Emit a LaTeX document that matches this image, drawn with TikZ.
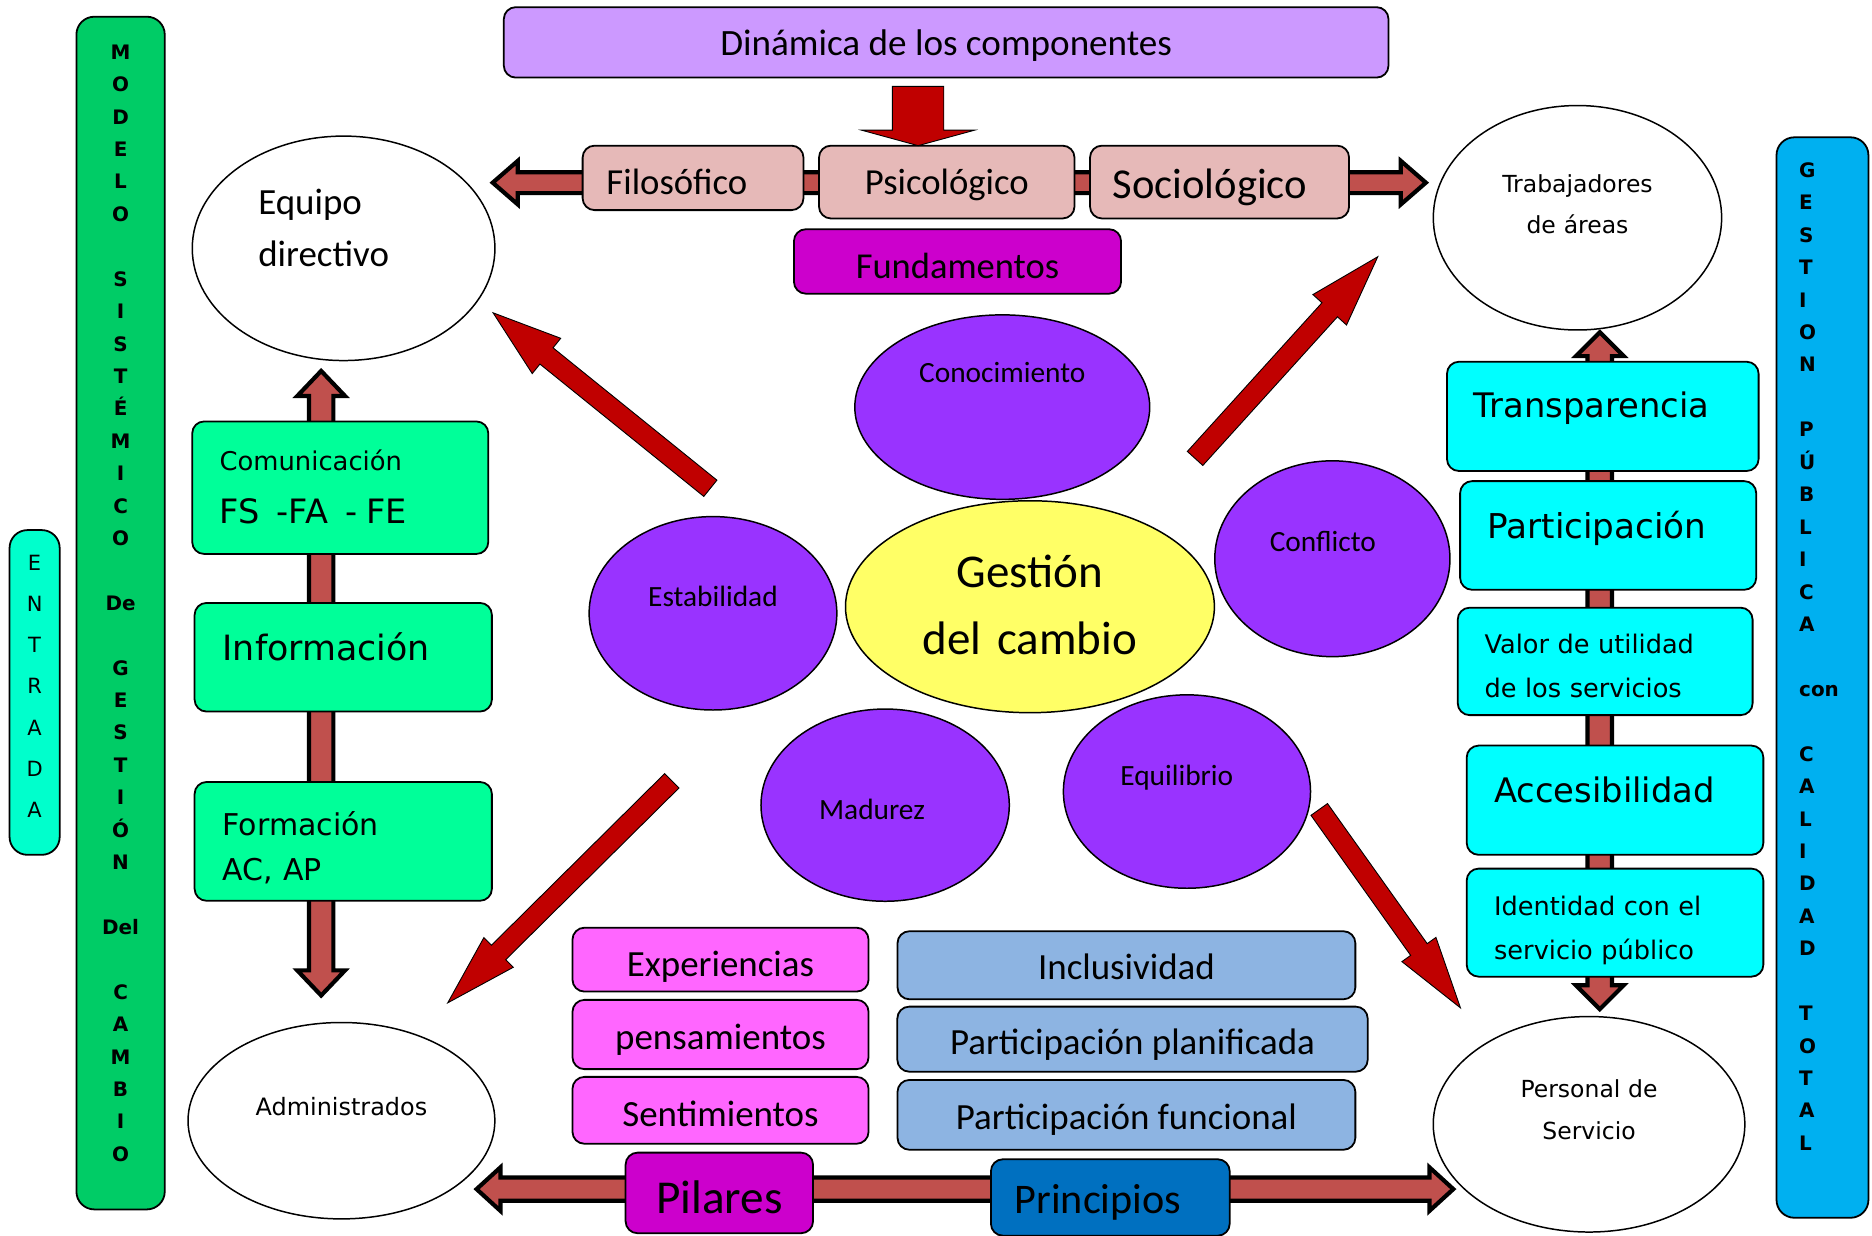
\documentclass[tikz,border=0pt]{standalone}
\usepackage{fontspec}
\setmainfont{Carlito}
\newfontfamily\verd{DejaVu Sans}
\usepackage{tikz}
\usetikzlibrary{shapes.geometric, positioning, calc, backgrounds}
\definecolor{entradaC}{HTML}{00FFCC}
\definecolor{modeloC}{HTML}{00CC66}
\definecolor{calidadC}{HTML}{00B0F0}
\definecolor{dinamicaC}{HTML}{CC99FF}
\definecolor{rootC}{HTML}{E6B9B8}
\definecolor{fundC}{HTML}{CC00CC}
\definecolor{ovalC}{HTML}{9933FF}
\definecolor{gestionC}{HTML}{FFFF66}
\definecolor{greenC}{HTML}{00FF99}
\definecolor{cyanC}{HTML}{00FFFF}
\definecolor{pinkC}{HTML}{FF66FF}
\definecolor{principC}{HTML}{8DB4E2}
\definecolor{darkblueC}{HTML}{0070C0}
\definecolor{blockred}{HTML}{C0504D}
\definecolor{arrowred}{HTML}{C00000}

\newcommand{\fsz}[2]{\fontsize{#1}{#2}\selectfont}

% block arrows: frame from #1 to #2
\newcommand{\arrowframe}[2]{%
  \path (#1); \pgfgetlastxy{\arax}{\aray}%
  \path (#2); \pgfgetlastxy{\arbx}{\arby}%
  \pgfmathsetmacro{\arang}{atan2(\arby-\aray,\arbx-\arax)}%
  \pgfmathsetmacro{\arlen}{veclen(\arbx-\arax,\arby-\aray)}}
% style, from, to, shaft half width, head half width, head length
\newcommand{\onearrow}[6]{%
  \arrowframe{#2}{#3}%
  \draw[#1, shift={(\arax,\aray)}, rotate=\arang]
    (0pt,-#4) -- ({\arlen pt-#6},-#4) -- ({\arlen pt-#6},-#5) -- (\arlen pt,0pt)
    -- ({\arlen pt-#6},#5) -- ({\arlen pt-#6},#4) -- (0pt,#4) -- cycle;}
\newcommand{\twoarrow}[6]{%
  \arrowframe{#2}{#3}%
  \draw[#1, shift={(\arax,\aray)}, rotate=\arang]
    (#6,-#4) -- ({\arlen pt-#6},-#4) -- ({\arlen pt-#6},-#5) -- (\arlen pt,0pt)
    -- ({\arlen pt-#6},#5) -- ({\arlen pt-#6},#4) -- (#6,#4) -- (#6,#5)
    -- (0pt,0pt) -- (#6,-#5) -- cycle;}

\begin{document}
\begin{tikzpicture}[x=0.2mm, y=-0.2mm,
    box/.style={rectangle, draw=black, rounded corners=2mm, line width=0.3mm,
                inner sep=0pt, text depth=0pt},
    oval/.style={ellipse, draw=black, line width=0.25mm, inner sep=0pt, text depth=0pt},
    column/.style={box, rounded corners=3mm},
    lift/.style={text height=0pt, text depth=#1},
    drop/.style={text height=#1, text depth=0pt},
    brownarrow/.style={fill=blockred, draw=black, line width=0.7mm},
    redarrow/.style={fill=arrowred, draw=black, line width=0.15mm}
]
\useasboundingbox (0,0) rectangle (1568,1035);

% Side columns
\node[column, fill=entradaC, minimum width=8.4mm, minimum height=54.4mm, text width=8mm, align=center,
      lift=116.2pt, font=\verd\fsz{10}{19.6}] (entrada) at (29,580) {E\\N\\T\\R\\A\\D\\A};
\node[column, fill=modeloC, minimum width=14.8mm, minimum height=199.8mm, text width=14mm, align=center,
      lift=527.9pt, font=\verd\bfseries\fsz{9.5}{15.45}] (modelo) at (101,513.5)
      {M\\O\\D\\E\\L\\O\\[15.45pt]S\\I\\S\\T\\É\\M\\I\\C\\O\\[15.45pt]De\\[15.45pt]G\\E\\S\\T\\I\\Ó\\N\\[15.45pt]Del\\[15.45pt]C\\A\\M\\B\\I\\O};
\node[column, fill=calidadC, minimum width=15.4mm, minimum height=181mm, text width=7.8mm, align=left,
      lift=476.8pt, font=\verd\bfseries\fsz{9.5}{15.46}] (calidad) at (1526.5,567.5)
      {G\\E\\S\\T\\I\\O\\N\\[15.46pt]P\\Ú\\B\\L\\I\\C\\A\\[15.46pt]con\\[15.46pt]C\\A\\L\\I\\D\\A\\D\\[15.46pt]T\\O\\T\\A\\L};

% Components
\node[box, fill=dinamicaC, minimum width=148.2mm, minimum height=11.8mm, drop=12.9pt,
      font=\fsz{17.7}{21}] (dinamica) at (792.5,35.5) {Dinámica de los componentes};
\node[box, fill=rootC, minimum width=37mm, minimum height=10.8mm, text width=29mm, align=left,
      drop=16.2pt, font=\fsz{17.5}{21}] (filosofico) at (580.5,149) {Filosófico};
\node[box, fill=rootC, minimum width=42.8mm, minimum height=12.2mm, drop=12.2pt,
      font=\fsz{17.5}{21}] (psicologico) at (793,152.5) {Psicológico};
\node[box, fill=rootC, minimum width=43.4mm, minimum height=12.2mm, text width=35.8mm, align=left,
      drop=16.1pt, font=\fsz{20.3}{24}] (sociologico) at (1021.5,152.5) {Sociológico};
\node[box, fill=fundC, minimum width=54.8mm, minimum height=10.8mm, drop=15.9pt,
      font=\fsz{17.4}{21}] (fundamentos) at (802,219) {Fundamentos};

% Actors
\node[oval, fill=white, minimum width=50.7mm, minimum height=37.6mm, text width=28.56mm, align=left,
      lift=31.8pt, font=\fsz{17.6}{24.6}] (equipo) at (287.8,208) {Equipo\\directivo};
\node[oval, fill=white, minimum width=48.3mm, minimum height=37.6mm, text width=30mm, align=center,
      lift=24.5pt, font=\verd\fsz{11.2}{19.6}] (trabajadores) at (1321.3,182.4) {Trabajadores\\de áreas};
\node[oval, fill=white, minimum width=51.4mm, minimum height=32.9mm, lift=5.3pt,
      font=\verd\fsz{11.4}{14}] (administrados) at (286,938.7) {Administrados};
\node[oval, fill=white, minimum width=52.2mm, minimum height=36.1mm, text width=28mm, align=center,
      lift=25.2pt, font=\verd\fsz{11.2}{19.8}] (personal) at (1331,941.7) {Personal de\\Servicio};

% Change core
\node[oval, fill=ovalC, minimum width=49.4mm, minimum height=30.9mm, lift=23.2pt,
      font=\fsz{14}{17}] (conocimiento) at (839.5,341) {Conocimiento};
\node[oval, fill=ovalC, minimum width=41.5mm, minimum height=32.4mm, lift=6.3pt,
      font=\fsz{14}{17}] (estabilidad) at (597.2,513.7) {Estabilidad};
\node[oval, fill=ovalC, minimum width=39.4mm, minimum height=32.8mm, lift=6.8pt,
      font=\fsz{14}{17}] (conflicto) at (1116,468) {Conflicto\kern3.2mm};
\node[oval, fill=ovalC, minimum width=41.6mm, minimum height=32.2mm, drop=14.1pt,
      font=\fsz{14}{17}] (madurez) at (741.4,674.4) {Madurez\kern4.4mm};
\node[oval, fill=ovalC, minimum width=41.4mm, minimum height=32.4mm, lift=6.2pt,
      font=\fsz{14}{17}] (equilibrio) at (994.2,663) {Equilibrio\kern3.4mm};
\node[oval, fill=gestionC, minimum width=61.8mm, minimum height=35.5mm, text width=38mm, align=center,
      lift=18.8pt, font=\fsz{22.4}{32}] (gestion) at (862.7,508.2) {Gestión\\del cambio};

% Left stack
\node[box, fill=greenC, minimum width=49.6mm, minimum height=22.2mm, text width=40.4mm, align=left,
      lift=16.4pt, font=\verd\fsz{12.3}{25.5}] (comunicacion) at (285,408.5)
      {Comunicación\\{\fsz{16}{25.5}FS\ \ -FA\ \ - FE}};
\node[box, fill=greenC, minimum width=49.8mm, minimum height=18.2mm, text width=40.4mm, align=left,
      drop=3.2pt, font=\verd\fsz{16.6}{20}] (informacion) at (287.5,550.5) {Información};
\node[box, fill=greenC, minimum width=49.8mm, minimum height=19.9mm, text width=40.4mm, align=left,
      lift=6pt, font=\verd\fsz{14.3}{21.5}] (formacion) at (287.5,704.75) {Formación\\AC, AP};

% Right stack
\node[box, fill=cyanC, minimum width=52.2mm, minimum height=18.3mm, text width=43.2mm, align=left,
      drop=1.4pt, font=\verd\fsz{16.1}{20}] (transparencia) at (1342.5,348.75) {Transparencia};
\node[box, fill=cyanC, minimum width=49.6mm, minimum height=18.2mm, text width=40.4mm, align=left,
      drop=3.1pt, font=\verd\fsz{16.3}{20}] (participacion) at (1347,448.5) {Participación};
\node[box, fill=cyanC, minimum width=49.4mm, minimum height=18mm, text width=40.4mm, align=left,
      lift=7.4pt, font=\verd\fsz{12.2}{21}] (valor) at (1344.5,554) {Valor de utilidad\\de los servicios};
\node[box, fill=cyanC, minimum width=49.7mm, minimum height=18.3mm, text width=40.5mm, align=left,
      drop=1.9pt, font=\verd\fsz{16.1}{20}] (accesibilidad) at (1352.75,670.25) {Accesibilidad};
\node[box, fill=cyanC, minimum width=49.7mm, minimum height=18.1mm, text width=40.5mm, align=left,
      lift=6.9pt, font=\verd\fsz{12.2}{21}] (identidad) at (1352.75,772.8) {Identidad con el\\servicio público};

% Pillars and principles
\node[box, fill=pinkC, minimum width=49.6mm, minimum height=10.7mm, drop=16.5pt,
      font=\fsz{17.6}{21}] (experiencias) at (603.5,803.8) {Experiencias};
\node[box, fill=pinkC, minimum width=49.6mm, minimum height=11.6mm, drop=14.7pt,
      font=\fsz{17.6}{21}] (pensamientos) at (603.5,866.5) {pensamientos};
\node[box, fill=pinkC, minimum width=49.6mm, minimum height=11.2mm, drop=15.5pt,
      font=\fsz{17.6}{21}] (sentimientos) at (603.5,930) {Sentimientos};
\node[box, fill=principC, minimum width=76.7mm, minimum height=11.4mm, drop=14pt,
      font=\fsz{17.6}{21}] (inclusividad) at (943.5,808.5) {Inclusividad};
\node[box, fill=principC, minimum width=78.8mm, minimum height=10.9mm, drop=15pt,
      font=\fsz{17.6}{21}] (planificada) at (948.6,870.4) {Participación planificada};
\node[box, fill=principC, minimum width=76.7mm, minimum height=11.7mm, drop=13.8pt,
      font=\fsz{17.6}{21}] (funcional) at (943.5,933.8) {Participación funcional};
\node[box, fill=fundC, minimum width=31.4mm, minimum height=13.5mm, drop=19.6pt,
      font=\fsz{22.5}{26}] (pilares) at (602.5,999.2) {Pilares};
\node[box, fill=darkblueC, minimum width=40mm, minimum height=12.8mm, text width=32mm, align=left,
      drop=15pt, font=\fsz{20.1}{24}] (principios) at (930,1003) {Principios};

% Arrow ends
\coordinate (topL) at (412.7,153);
\coordinate (topR) at (1194.3,153);
\coordinate (leftT) at (269,310.7);
\coordinate (leftB) at (269,833.8);
\coordinate (rightT) at (1340,278.3);
\coordinate (rightB) at (1340,845.3);
\coordinate (botL) at (399.2,996);
\coordinate (botR) at (1217.3,996);

% Block arrows behind the boxes
\begin{scope}[on background layer]
  \twoarrow{brownarrow}{topL}{topR}{1.75mm}{3.65mm}{4.2mm}
  \twoarrow{brownarrow}{leftT}{leftB}{2.05mm}{4mm}{4.2mm}
  \twoarrow{brownarrow}{rightT}{rightB}{2.05mm}{4mm}{4mm}
  \twoarrow{brownarrow}{botL}{botR}{1.95mm}{3.65mm}{4mm}
\end{scope}

% Red arrows
\coordinate (dynTail) at (769,72.4);
\coordinate (dynTip) at (769,122);
\coordinate (toEquipo) at (413,262);
\coordinate (fromEstab) at (595,409);
\coordinate (toTrab) at (1154.5,214.5);
\coordinate (fromConoc) at (1001,384);
\coordinate (toAdmin) at (375,840);
\coordinate (fromMad) at (562.7,654);
\coordinate (toPers) at (1223.5,844.5);
\coordinate (fromEquil) at (1105,678);
\onearrow{redarrow}{dynTail}{dynTip}{4.3mm}{9.5mm}{2.6mm}
\onearrow{redarrow}{fromEstab}{toEquipo}{1.75mm}{3.8mm}{11.5mm}
\onearrow{redarrow}{fromConoc}{toTrab}{1.75mm}{3.8mm}{12mm}
\onearrow{redarrow}{fromMad}{toAdmin}{1.7mm}{3.5mm}{12mm}
\onearrow{redarrow}{fromEquil}{toPers}{1.7mm}{3.5mm}{12mm}

\end{tikzpicture}
\end{document}
